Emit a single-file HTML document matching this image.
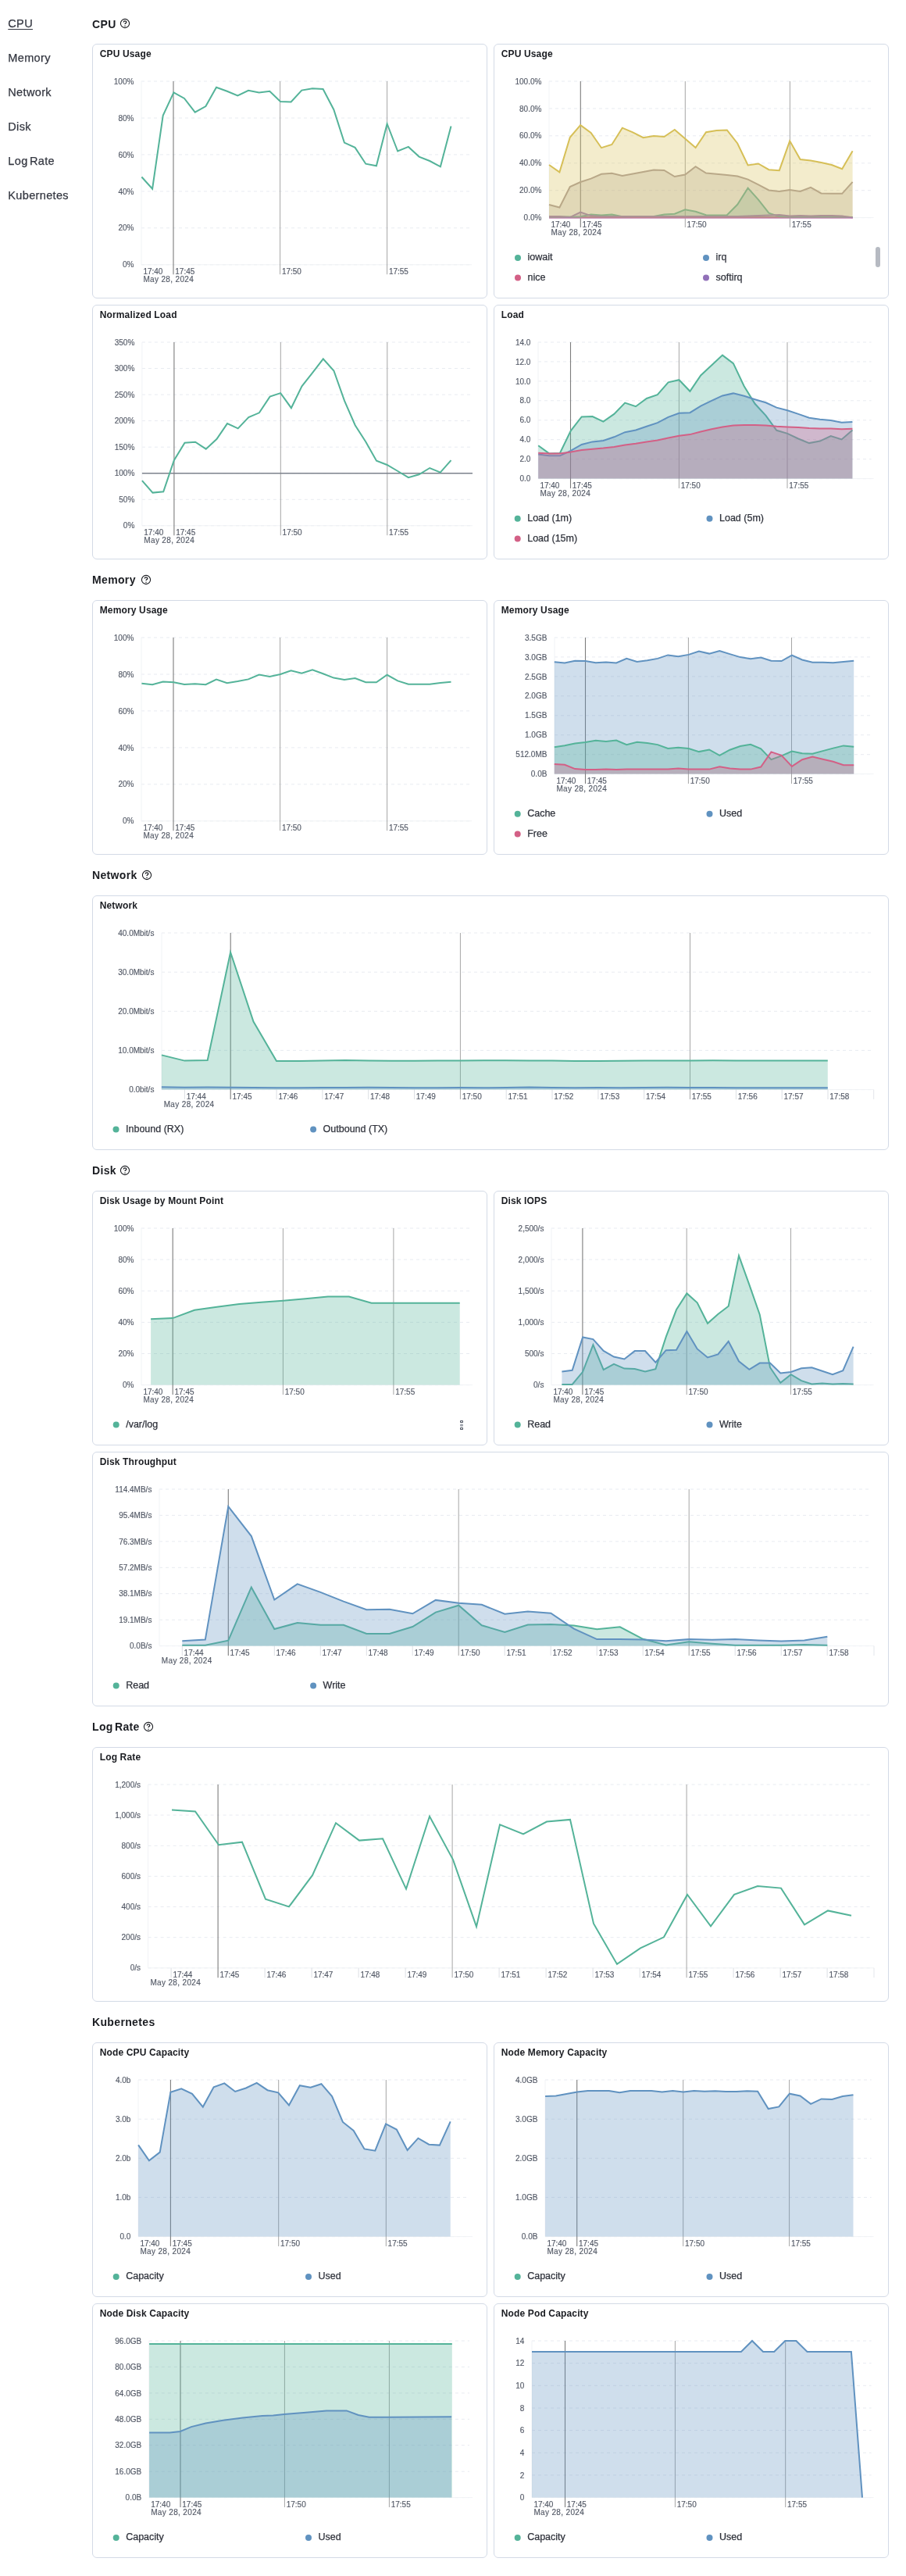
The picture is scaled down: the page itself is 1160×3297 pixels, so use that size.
<!DOCTYPE html>
<html><head><meta charset="utf-8"><title>Host metrics</title>
<style>
*{box-sizing:border-box}
html,body{margin:0;padding:0;background:#fff}
body{width:1160px;height:3297px;position:relative;overflow:hidden;font-family:"Liberation Sans", sans-serif;color:#343741}
nav a{position:absolute;left:10.3px;font-size:14.5px;line-height:14px;color:#343741;text-decoration:none;letter-spacing:0.35px;word-spacing:-2px;white-space:nowrap;-webkit-text-stroke:0.25px #343741}
nav a.active{text-decoration:underline;text-underline-offset:2px;text-decoration-thickness:1px}
h2{position:absolute;left:117.8px;margin:0;font-size:14px;line-height:14px;font-weight:bold;color:#1a1c21;letter-spacing:0.35px;word-spacing:-2px;white-space:nowrap}
svg.help{position:absolute}
.panel{position:absolute;border:1px solid #d3dae6;border-radius:6px;background:#fff;will-change:transform}
nav,h2,svg.help{will-change:transform}
.ptitle{position:absolute;left:8.7px;top:5.8px;margin:0;font-size:12px;line-height:12px;font-weight:bold;color:#1a1c21;white-space:nowrap;letter-spacing:0.15px}
svg.ch{position:absolute;left:-1px;top:-1px;overflow:visible}
svg text{font-family:"Liberation Sans", sans-serif}
.yl{font-size:10px;fill:#535966;stroke:#535966;stroke-width:0.15px}
.xl{font-size:10px;fill:#535966;stroke:#535966;stroke-width:0.15px}
.dl{letter-spacing:0.35px}
.lg{font-size:12.5px;fill:#2f323b;stroke:#2f323b;stroke-width:0.25px}
</style></head><body>

<nav>
<a href="#cpu" class="active" style="top:23.2px">CPU</a>
<a href="#memory" class="" style="top:67.2px">Memory</a>
<a href="#network" class="" style="top:111.2px">Network</a>
<a href="#disk" class="" style="top:155.2px">Disk</a>
<a href="#lograte" class="" style="top:199.2px">Log Rate</a>
<a href="#kubernetes" class="" style="top:243.2px">Kubernetes</a>
</nav>
<h2 style="top:23.5px">CPU</h2>
<svg class="help" style="left:153px;top:23.2px" width="14" height="14" viewBox="0 0 14 14"><circle cx="7" cy="7" r="5.6" fill="none" stroke="#1a1c21" stroke-width="1.1"/><path d="M5.2 5.5 C5.2 3.3 8.8 3.3 8.8 5.4 C8.8 6.6 7 6.8 7 7.9" fill="none" stroke="#1a1c21" stroke-width="1.25"/><circle cx="7" cy="10.2" r="0.75" fill="#1a1c21"/></svg>
<h2 style="top:735.3px">Memory</h2>
<svg class="help" style="left:179.8px;top:735px" width="14" height="14" viewBox="0 0 14 14"><circle cx="7" cy="7" r="5.6" fill="none" stroke="#1a1c21" stroke-width="1.1"/><path d="M5.2 5.5 C5.2 3.3 8.8 3.3 8.8 5.4 C8.8 6.6 7 6.8 7 7.9" fill="none" stroke="#1a1c21" stroke-width="1.25"/><circle cx="7" cy="10.2" r="0.75" fill="#1a1c21"/></svg>
<h2 style="top:1113.3px">Network</h2>
<svg class="help" style="left:180.8px;top:1113px" width="14" height="14" viewBox="0 0 14 14"><circle cx="7" cy="7" r="5.6" fill="none" stroke="#1a1c21" stroke-width="1.1"/><path d="M5.2 5.5 C5.2 3.3 8.8 3.3 8.8 5.4 C8.8 6.6 7 6.8 7 7.9" fill="none" stroke="#1a1c21" stroke-width="1.25"/><circle cx="7" cy="10.2" r="0.75" fill="#1a1c21"/></svg>
<h2 style="top:1491.3px">Disk</h2>
<svg class="help" style="left:152.8px;top:1491px" width="14" height="14" viewBox="0 0 14 14"><circle cx="7" cy="7" r="5.6" fill="none" stroke="#1a1c21" stroke-width="1.1"/><path d="M5.2 5.5 C5.2 3.3 8.8 3.3 8.8 5.4 C8.8 6.6 7 6.8 7 7.9" fill="none" stroke="#1a1c21" stroke-width="1.25"/><circle cx="7" cy="10.2" r="0.75" fill="#1a1c21"/></svg>
<h2 style="top:2203.3px">Log Rate</h2>
<svg class="help" style="left:183px;top:2203px" width="14" height="14" viewBox="0 0 14 14"><circle cx="7" cy="7" r="5.6" fill="none" stroke="#1a1c21" stroke-width="1.1"/><path d="M5.2 5.5 C5.2 3.3 8.8 3.3 8.8 5.4 C8.8 6.6 7 6.8 7 7.9" fill="none" stroke="#1a1c21" stroke-width="1.25"/><circle cx="7" cy="10.2" r="0.75" fill="#1a1c21"/></svg>
<h2 style="top:2581.3px">Kubernetes</h2>
<div class="panel" style="left:118px;top:56px;width:506px;height:326px">
<h3 class="ptitle">CPU Usage</h3>
<svg class="ch" width="506" height="326" viewBox="118 56 506 326">
<line x1="181" y1="104" x2="601" y2="104" stroke="#e8ebf1" stroke-width="1" stroke-dasharray="4 4"/>
<line x1="181" y1="151" x2="601" y2="151" stroke="#e8ebf1" stroke-width="1" stroke-dasharray="4 4"/>
<line x1="181" y1="197.9" x2="601" y2="197.9" stroke="#e8ebf1" stroke-width="1" stroke-dasharray="4 4"/>
<line x1="181" y1="244.9" x2="601" y2="244.9" stroke="#e8ebf1" stroke-width="1" stroke-dasharray="4 4"/>
<line x1="181" y1="291.8" x2="601" y2="291.8" stroke="#e8ebf1" stroke-width="1" stroke-dasharray="4 4"/>
<line x1="181" y1="338.8" x2="601" y2="338.8" stroke="#e8ebf1" stroke-width="1" stroke-dasharray="4 4"/>
<text x="171.4" y="107.6" text-anchor="end" class="yl">100%</text>
<text x="171.4" y="154.6" text-anchor="end" class="yl">80%</text>
<text x="171.4" y="201.5" text-anchor="end" class="yl">60%</text>
<text x="171.4" y="248.5" text-anchor="end" class="yl">40%</text>
<text x="171.4" y="295.4" text-anchor="end" class="yl">20%</text>
<text x="171.4" y="342.4" text-anchor="end" class="yl">0%</text>
<line x1="181" y1="104" x2="181" y2="338.8" stroke="#f1f3f6" stroke-width="1"/>
<line x1="181" y1="338.8" x2="604" y2="338.8" stroke="#f1f3f6" stroke-width="1"/>
<line x1="222" y1="104" x2="222" y2="351.2" stroke="#7d7d7d" stroke-width="1.1"/>
<text x="224.3" y="350.9" class="xl">17:45</text>
<line x1="358.6" y1="104" x2="358.6" y2="351.2" stroke="#a6a6a6" stroke-width="1"/>
<text x="360.9" y="350.9" class="xl">17:50</text>
<line x1="495.6" y1="104" x2="495.6" y2="351.2" stroke="#a6a6a6" stroke-width="1"/>
<text x="497.9" y="350.9" class="xl">17:55</text>
<text x="183.4" y="350.9" class="xl">17:40</text>
<text x="183.4" y="360.9" class="xl dl">May 28, 2024</text>
<path d="M181.4 226.5 L195.1 241.7 L208.7 147.8 L222.4 118.4 L236 126 L249.7 143.7 L263.4 136.1 L277 111.8 L290.7 116.8 L304.3 122.4 L318 115.8 L331.7 118.4 L345.3 116.8 L359 130 L372.6 130.5 L386.3 115.6 L400 113.3 L413.6 114 L427.3 140.2 L440.9 182.6 L454.6 188.9 L468.3 209.7 L481.9 212.3 L495.6 158.5 L509.2 193.5 L522.9 187.9 L536.6 200.6 L550.2 206 L563.9 213.3 L577.5 161.5" fill="none" stroke="#54B399" stroke-width="2" stroke-linejoin="miter"/>
</svg></div>
<div class="panel" style="left:632px;top:56px;width:506px;height:326px">
<h3 class="ptitle">CPU Usage</h3>
<svg class="ch" width="506" height="326" viewBox="632 56 506 326">
<line x1="703" y1="104" x2="1115.6" y2="104" stroke="#e8ebf1" stroke-width="1" stroke-dasharray="4 4"/>
<line x1="703" y1="138.9" x2="1115.6" y2="138.9" stroke="#e8ebf1" stroke-width="1" stroke-dasharray="4 4"/>
<line x1="703" y1="173.8" x2="1115.6" y2="173.8" stroke="#e8ebf1" stroke-width="1" stroke-dasharray="4 4"/>
<line x1="703" y1="208.8" x2="1115.6" y2="208.8" stroke="#e8ebf1" stroke-width="1" stroke-dasharray="4 4"/>
<line x1="703" y1="243.7" x2="1115.6" y2="243.7" stroke="#e8ebf1" stroke-width="1" stroke-dasharray="4 4"/>
<line x1="703" y1="278.6" x2="1115.6" y2="278.6" stroke="#e8ebf1" stroke-width="1" stroke-dasharray="4 4"/>
<text x="693.4" y="107.6" text-anchor="end" class="yl">100.0%</text>
<text x="693.4" y="142.5" text-anchor="end" class="yl">80.0%</text>
<text x="693.4" y="177.4" text-anchor="end" class="yl">60.0%</text>
<text x="693.4" y="212.4" text-anchor="end" class="yl">40.0%</text>
<text x="693.4" y="247.3" text-anchor="end" class="yl">20.0%</text>
<text x="693.4" y="282.2" text-anchor="end" class="yl">0.0%</text>
<line x1="703" y1="104" x2="703" y2="278.6" stroke="#f1f3f6" stroke-width="1"/>
<line x1="703" y1="278.6" x2="1118.6" y2="278.6" stroke="#f1f3f6" stroke-width="1"/>
<line x1="743.3" y1="104" x2="743.3" y2="291" stroke="#7d7d7d" stroke-width="1.1"/>
<text x="745.6" y="290.7" class="xl">17:45</text>
<line x1="877.3" y1="104" x2="877.3" y2="291" stroke="#a6a6a6" stroke-width="1"/>
<text x="879.6" y="290.7" class="xl">17:50</text>
<line x1="1011.4" y1="104" x2="1011.4" y2="291" stroke="#a6a6a6" stroke-width="1"/>
<text x="1013.7" y="290.7" class="xl">17:55</text>
<text x="705.4" y="290.7" class="xl">17:40</text>
<text x="705.4" y="300.7" class="xl dl">May 28, 2024</text>
<rect x="1121" y="316" width="6" height="26" rx="3" fill="#b6bac2"/>
<path d="M703 278.1 L716.4 278.1 L729.8 278.1 L743.2 278.1 L756.6 278.1 L770 278.1 L783.4 278.1 L796.8 278.1 L810.2 278.1 L823.6 278.1 L837 278.1 L850.4 278.1 L863.8 278.1 L877.2 278.1 L890.6 278.1 L904 278.1 L917.4 278.1 L930.8 278.1 L944.2 278.1 L957.6 278.1 L971 278.1 L984.4 278.1 L997.8 278.1 L1011.2 278.1 L1024.6 278.1 L1038 278.1 L1051.4 278.1 L1064.8 278.1 L1078.2 278.1 L1091.6 278.1 L1091.6 278.6 L703 278.6 Z" fill="#D36086" fill-opacity="0.3" stroke="none"/>
<path d="M703 278.1 L716.4 278.1 L729.8 278.1 L743.2 278.1 L756.6 278.1 L770 278.1 L783.4 278.1 L796.8 278.1 L810.2 278.1 L823.6 278.1 L837 278.1 L850.4 278.1 L863.8 278.1 L877.2 278.1 L890.6 278.1 L904 278.1 L917.4 278.1 L930.8 278.1 L944.2 278.1 L957.6 278.1 L971 278.1 L984.4 278.1 L997.8 278.1 L1011.2 278.1 L1024.6 278.1 L1038 278.1 L1051.4 278.1 L1064.8 278.1 L1078.2 278.1 L1091.6 278.1" fill="none" stroke="#D36086" stroke-width="2" stroke-linejoin="miter"/>
<path d="M703 277.6 L716.4 277.6 L729.8 277.6 L743.2 277.2 L756.6 274.4 L770 275.6 L783.4 274.4 L796.8 277.2 L810.2 277.1 L823.6 277.1 L837 277.1 L850.4 274.4 L863.8 273.7 L877.2 268.2 L890.6 270.8 L904 275.2 L917.4 275.6 L930.8 275.2 L944.2 261.8 L957.6 240.6 L971 255.6 L984.4 272.7 L997.8 277.1 L1011.2 277.4 L1024.6 277.6 L1038 277.6 L1051.4 277.6 L1064.8 277.6 L1078.2 277.6 L1091.6 278.1 L1091.6 278.6 L703 278.6 Z" fill="#54B399" fill-opacity="0.3" stroke="none"/>
<path d="M703 277.6 L716.4 277.6 L729.8 277.6 L743.2 277.2 L756.6 274.4 L770 275.6 L783.4 274.4 L796.8 277.2 L810.2 277.1 L823.6 277.1 L837 277.1 L850.4 274.4 L863.8 273.7 L877.2 268.2 L890.6 270.8 L904 275.2 L917.4 275.6 L930.8 275.2 L944.2 261.8 L957.6 240.6 L971 255.6 L984.4 272.7 L997.8 277.1 L1011.2 277.4 L1024.6 277.6 L1038 277.6 L1051.4 277.6 L1064.8 277.6 L1078.2 277.6 L1091.6 278.1" fill="none" stroke="#54B399" stroke-width="2" stroke-linejoin="miter"/>
<path d="M703 277.1 L716.4 277.1 L729.8 278.1 L743.2 271.5 L756.6 276.1 L770 277.1 L783.4 277.1 L796.8 277.1 L810.2 277.1 L823.6 277.1 L837 277.1 L850.4 277.1 L863.8 277.1 L877.2 277.1 L890.6 277.1 L904 277.1 L917.4 277.1 L930.8 277.1 L944.2 277.1 L957.6 276.6 L971 276.1 L984.4 275.6 L997.8 275.1 L1011.2 276.6 L1024.6 276.1 L1038 276.6 L1051.4 276.1 L1064.8 276.1 L1078.2 276.6 L1091.6 278.6 L1091.6 278.6 L703 278.6 Z" fill="#9170B8" fill-opacity="0.3" stroke="none"/>
<path d="M703 277.1 L716.4 277.1 L729.8 278.1 L743.2 271.5 L756.6 276.1 L770 277.1 L783.4 277.1 L796.8 277.1 L810.2 277.1 L823.6 277.1 L837 277.1 L850.4 277.1 L863.8 277.1 L877.2 277.1 L890.6 277.1 L904 277.1 L917.4 277.1 L930.8 277.1 L944.2 277.1 L957.6 276.6 L971 276.1 L984.4 275.6 L997.8 275.1 L1011.2 276.6 L1024.6 276.1 L1038 276.6 L1051.4 276.1 L1064.8 276.1 L1078.2 276.6 L1091.6 278.6" fill="none" stroke="#9170B8" stroke-width="2" stroke-linejoin="miter"/>
<path d="M703 211 L716.4 220.3 L729.8 175.8 L743.2 160.2 L756.6 170 L770 189.2 L783.4 185 L796.8 163.7 L810.2 169.3 L823.6 176.2 L837 173.9 L850.4 175 L863.8 166 L877.2 177.6 L890.6 189.1 L904 169.2 L917.4 167 L930.8 166.5 L944.2 183.5 L957.6 211.4 L971 209.5 L984.4 217.2 L997.8 218.2 L1011.2 180.3 L1024.6 204.1 L1038 205.6 L1051.4 208 L1064.8 211 L1078.2 216.3 L1091.6 193.2 L1091.6 278.6 L703 278.6 Z" fill="#D6BF57" fill-opacity="0.3" stroke="none"/>
<path d="M703 211 L716.4 220.3 L729.8 175.8 L743.2 160.2 L756.6 170 L770 189.2 L783.4 185 L796.8 163.7 L810.2 169.3 L823.6 176.2 L837 173.9 L850.4 175 L863.8 166 L877.2 177.6 L890.6 189.1 L904 169.2 L917.4 167 L930.8 166.5 L944.2 183.5 L957.6 211.4 L971 209.5 L984.4 217.2 L997.8 218.2 L1011.2 180.3 L1024.6 204.1 L1038 205.6 L1051.4 208 L1064.8 211 L1078.2 216.3 L1091.6 193.2" fill="none" stroke="#D6BF57" stroke-width="2" stroke-linejoin="miter"/>
<path d="M703 262 L716.4 265.5 L729.8 239 L743.2 233 L756.6 228.6 L770 222.8 L783.4 221.7 L796.8 224.9 L810.2 222.6 L823.6 220 L837 217.5 L850.4 218 L863.8 226 L877.2 223.5 L890.6 213.1 L904 221.6 L917.4 222.8 L930.8 224 L944.2 225.5 L957.6 229.6 L971 236.4 L984.4 243.5 L997.8 245 L1011.2 243 L1024.6 245 L1038 239.8 L1051.4 247.4 L1064.8 247.8 L1078.2 247.8 L1091.6 232.8 L1091.6 278.6 L703 278.6 Z" fill="#B9A888" fill-opacity="0.3" stroke="none"/>
<path d="M703 262 L716.4 265.5 L729.8 239 L743.2 233 L756.6 228.6 L770 222.8 L783.4 221.7 L796.8 224.9 L810.2 222.6 L823.6 220 L837 217.5 L850.4 218 L863.8 226 L877.2 223.5 L890.6 213.1 L904 221.6 L917.4 222.8 L930.8 224 L944.2 225.5 L957.6 229.6 L971 236.4 L984.4 243.5 L997.8 245 L1011.2 243 L1024.6 245 L1038 239.8 L1051.4 247.4 L1064.8 247.8 L1078.2 247.8 L1091.6 232.8" fill="none" stroke="#B9A888" stroke-width="2" stroke-linejoin="miter"/>
<line x1="703" y1="279.2" x2="1092" y2="279.2" stroke="#c687b0" stroke-width="1.1"/>
<circle cx="663" cy="330" r="4" fill="#54B399"/>
<text x="675.5" y="333.2" class="lg">iowait</text>
<circle cx="904" cy="330" r="4" fill="#6092C0"/>
<text x="916.5" y="333.2" class="lg">irq</text>
<circle cx="663" cy="355.6" r="4" fill="#D36086"/>
<text x="675.5" y="358.8" class="lg">nice</text>
<circle cx="904" cy="355.6" r="4" fill="#9170B8"/>
<text x="916.5" y="358.8" class="lg">softirq</text>
</svg></div>
<div class="panel" style="left:118px;top:390px;width:506px;height:326px">
<h3 class="ptitle">Normalized Load</h3>
<svg class="ch" width="506" height="326" viewBox="118 390 506 326">
<line x1="181.9" y1="438" x2="602" y2="438" stroke="#e8ebf1" stroke-width="1" stroke-dasharray="4 4"/>
<line x1="181.9" y1="471.5" x2="602" y2="471.5" stroke="#e8ebf1" stroke-width="1" stroke-dasharray="4 4"/>
<line x1="181.9" y1="505.1" x2="602" y2="505.1" stroke="#e8ebf1" stroke-width="1" stroke-dasharray="4 4"/>
<line x1="181.9" y1="538.6" x2="602" y2="538.6" stroke="#e8ebf1" stroke-width="1" stroke-dasharray="4 4"/>
<line x1="181.9" y1="572.2" x2="602" y2="572.2" stroke="#e8ebf1" stroke-width="1" stroke-dasharray="4 4"/>
<line x1="181.9" y1="605.7" x2="602" y2="605.7" stroke="#e8ebf1" stroke-width="1" stroke-dasharray="4 4"/>
<line x1="181.9" y1="639.3" x2="602" y2="639.3" stroke="#e8ebf1" stroke-width="1" stroke-dasharray="4 4"/>
<line x1="181.9" y1="672.8" x2="602" y2="672.8" stroke="#e8ebf1" stroke-width="1" stroke-dasharray="4 4"/>
<text x="172.3" y="441.6" text-anchor="end" class="yl">350%</text>
<text x="172.3" y="475.1" text-anchor="end" class="yl">300%</text>
<text x="172.3" y="508.7" text-anchor="end" class="yl">250%</text>
<text x="172.3" y="542.2" text-anchor="end" class="yl">200%</text>
<text x="172.3" y="575.8" text-anchor="end" class="yl">150%</text>
<text x="172.3" y="609.3" text-anchor="end" class="yl">100%</text>
<text x="172.3" y="642.9" text-anchor="end" class="yl">50%</text>
<text x="172.3" y="676.4" text-anchor="end" class="yl">0%</text>
<line x1="181.9" y1="438" x2="181.9" y2="672.8" stroke="#f1f3f6" stroke-width="1"/>
<line x1="181.9" y1="672.8" x2="605" y2="672.8" stroke="#f1f3f6" stroke-width="1"/>
<line x1="222.9" y1="438" x2="222.9" y2="685.2" stroke="#7d7d7d" stroke-width="1.1"/>
<text x="225.2" y="684.9" class="xl">17:45</text>
<line x1="359.3" y1="438" x2="359.3" y2="685.2" stroke="#a6a6a6" stroke-width="1"/>
<text x="361.6" y="684.9" class="xl">17:50</text>
<line x1="495.8" y1="438" x2="495.8" y2="685.2" stroke="#a6a6a6" stroke-width="1"/>
<text x="498.1" y="684.9" class="xl">17:55</text>
<text x="184.3" y="684.9" class="xl">17:40</text>
<text x="184.3" y="694.9" class="xl dl">May 28, 2024</text>
<line x1="181.9" y1="605.8" x2="605" y2="605.8" stroke="#7d828c" stroke-width="1.5"/>
<path d="M181.9 615.2 L195.5 630.6 L209.2 629.2 L222.8 589.2 L236.5 566.7 L250.1 565.7 L263.7 574.7 L277.4 562 L291 542.1 L304.7 548.4 L318.3 534.1 L331.9 528.3 L345.6 507.6 L359.2 503.1 L372.9 522.2 L386.5 494.4 L400.1 477.2 L413.8 459.4 L427.4 474.5 L441.1 513.2 L454.7 544.2 L468.3 565.4 L482 589.8 L495.6 595 L509.3 603 L522.9 611.2 L536.5 607.3 L550.2 599 L563.8 604.6 L577.5 589.2" fill="none" stroke="#54B399" stroke-width="2" stroke-linejoin="miter"/>
</svg></div>
<div class="panel" style="left:632px;top:390px;width:506px;height:326px">
<h3 class="ptitle">Load</h3>
<svg class="ch" width="506" height="326" viewBox="632 390 506 326">
<line x1="689" y1="438" x2="1115.6" y2="438" stroke="#e8ebf1" stroke-width="1" stroke-dasharray="4 4"/>
<line x1="689" y1="462.9" x2="1115.6" y2="462.9" stroke="#e8ebf1" stroke-width="1" stroke-dasharray="4 4"/>
<line x1="689" y1="487.9" x2="1115.6" y2="487.9" stroke="#e8ebf1" stroke-width="1" stroke-dasharray="4 4"/>
<line x1="689" y1="512.8" x2="1115.6" y2="512.8" stroke="#e8ebf1" stroke-width="1" stroke-dasharray="4 4"/>
<line x1="689" y1="537.8" x2="1115.6" y2="537.8" stroke="#e8ebf1" stroke-width="1" stroke-dasharray="4 4"/>
<line x1="689" y1="562.7" x2="1115.6" y2="562.7" stroke="#e8ebf1" stroke-width="1" stroke-dasharray="4 4"/>
<line x1="689" y1="587.7" x2="1115.6" y2="587.7" stroke="#e8ebf1" stroke-width="1" stroke-dasharray="4 4"/>
<line x1="689" y1="612.6" x2="1115.6" y2="612.6" stroke="#e8ebf1" stroke-width="1" stroke-dasharray="4 4"/>
<text x="679.4" y="441.6" text-anchor="end" class="yl">14.0</text>
<text x="679.4" y="466.5" text-anchor="end" class="yl">12.0</text>
<text x="679.4" y="491.5" text-anchor="end" class="yl">10.0</text>
<text x="679.4" y="516.4" text-anchor="end" class="yl">8.0</text>
<text x="679.4" y="541.4" text-anchor="end" class="yl">6.0</text>
<text x="679.4" y="566.3" text-anchor="end" class="yl">4.0</text>
<text x="679.4" y="591.3" text-anchor="end" class="yl">2.0</text>
<text x="679.4" y="616.2" text-anchor="end" class="yl">0.0</text>
<line x1="689" y1="438" x2="689" y2="612.6" stroke="#f1f3f6" stroke-width="1"/>
<line x1="689" y1="612.6" x2="1118.6" y2="612.6" stroke="#f1f3f6" stroke-width="1"/>
<line x1="730.5" y1="438" x2="730.5" y2="625" stroke="#7d7d7d" stroke-width="1.1"/>
<text x="732.8" y="624.7" class="xl">17:45</text>
<line x1="869.4" y1="438" x2="869.4" y2="625" stroke="#a6a6a6" stroke-width="1"/>
<text x="871.7" y="624.7" class="xl">17:50</text>
<line x1="1008" y1="438" x2="1008" y2="625" stroke="#a6a6a6" stroke-width="1"/>
<text x="1010.3" y="624.7" class="xl">17:55</text>
<text x="691.4" y="624.7" class="xl">17:40</text>
<text x="691.4" y="634.7" class="xl dl">May 28, 2024</text>
<path d="M689.2 570.2 L703.1 580.4 L716.9 579.9 L730.8 551.3 L744.7 533.5 L758.6 533.1 L772.4 539.6 L786.3 529.9 L800.2 515.6 L814 520.2 L827.9 510 L841.8 505.1 L855.6 489.4 L869.5 486.2 L883.4 500.8 L897.2 480.4 L911.1 467.5 L925 454.6 L938.9 465.1 L952.7 494.2 L966.6 516.8 L980.5 531.8 L994.3 550.8 L1008.2 554.9 L1022.1 561.5 L1036 567.1 L1049.8 564.6 L1063.7 558.1 L1077.6 562.4 L1091.4 550.5 L1091.4 612.6 L689.2 612.6 Z" fill="#54B399" fill-opacity="0.3" stroke="none"/>
<path d="M689.2 570.2 L703.1 580.4 L716.9 579.9 L730.8 551.3 L744.7 533.5 L758.6 533.1 L772.4 539.6 L786.3 529.9 L800.2 515.6 L814 520.2 L827.9 510 L841.8 505.1 L855.6 489.4 L869.5 486.2 L883.4 500.8 L897.2 480.4 L911.1 467.5 L925 454.6 L938.9 465.1 L952.7 494.2 L966.6 516.8 L980.5 531.8 L994.3 550.8 L1008.2 554.9 L1022.1 561.5 L1036 567.1 L1049.8 564.6 L1063.7 558.1 L1077.6 562.4 L1091.4 550.5" fill="none" stroke="#54B399" stroke-width="2" stroke-linejoin="miter"/>
<path d="M689.2 581.6 L703.1 583.3 L716.9 583.3 L730.8 576.8 L744.7 569 L758.6 565.4 L772.4 563.9 L786.3 559.3 L800.2 553.2 L814 550.5 L827.9 545.7 L841.8 541.1 L855.6 533.8 L869.5 528.7 L883.4 528.2 L897.2 519.7 L911.1 512.9 L925 506.4 L938.9 503.4 L952.7 506.8 L966.6 511.2 L980.5 515.3 L994.3 521.6 L1008.2 525.3 L1022.1 529.9 L1036 534.8 L1049.8 536.7 L1063.7 537.9 L1077.6 540.8 L1091.4 539.9 L1091.4 612.6 L689.2 612.6 Z" fill="#6092C0" fill-opacity="0.3" stroke="none"/>
<path d="M689.2 581.6 L703.1 583.3 L716.9 583.3 L730.8 576.8 L744.7 569 L758.6 565.4 L772.4 563.9 L786.3 559.3 L800.2 553.2 L814 550.5 L827.9 545.7 L841.8 541.1 L855.6 533.8 L869.5 528.7 L883.4 528.2 L897.2 519.7 L911.1 512.9 L925 506.4 L938.9 503.4 L952.7 506.8 L966.6 511.2 L980.5 515.3 L994.3 521.6 L1008.2 525.3 L1022.1 529.9 L1036 534.8 L1049.8 536.7 L1063.7 537.9 L1077.6 540.8 L1091.4 539.9" fill="none" stroke="#6092C0" stroke-width="2" stroke-linejoin="miter"/>
<path d="M689.2 579.7 L703.1 580.4 L716.9 580.4 L730.8 578.5 L744.7 576 L758.6 574.8 L772.4 573.6 L786.3 571.9 L800.2 569.5 L814 567.8 L827.9 565.4 L841.8 563.4 L855.6 560.5 L869.5 557.8 L883.4 556.1 L897.2 552.5 L911.1 549.3 L925 546.4 L938.9 544.5 L952.7 544 L966.6 544 L980.5 544.5 L994.3 545.7 L1008.2 546.4 L1022.1 547.1 L1036 548.1 L1049.8 548.4 L1063.7 548.4 L1077.6 549.3 L1091.4 548.8 L1091.4 612.6 L689.2 612.6 Z" fill="#D36086" fill-opacity="0.3" stroke="none"/>
<path d="M689.2 579.7 L703.1 580.4 L716.9 580.4 L730.8 578.5 L744.7 576 L758.6 574.8 L772.4 573.6 L786.3 571.9 L800.2 569.5 L814 567.8 L827.9 565.4 L841.8 563.4 L855.6 560.5 L869.5 557.8 L883.4 556.1 L897.2 552.5 L911.1 549.3 L925 546.4 L938.9 544.5 L952.7 544 L966.6 544 L980.5 544.5 L994.3 545.7 L1008.2 546.4 L1022.1 547.1 L1036 548.1 L1049.8 548.4 L1063.7 548.4 L1077.6 549.3 L1091.4 548.8" fill="none" stroke="#D36086" stroke-width="2" stroke-linejoin="miter"/>
<circle cx="662.7" cy="663.7" r="4" fill="#54B399"/>
<text x="675.2" y="666.9" class="lg">Load (1m)</text>
<circle cx="908.5" cy="663.7" r="4" fill="#6092C0"/>
<text x="921" y="666.9" class="lg">Load (5m)</text>
<circle cx="662.7" cy="689.4" r="4" fill="#D36086"/>
<text x="675.2" y="692.6" class="lg">Load (15m)</text>
</svg></div>
<div class="panel" style="left:118px;top:768px;width:506px;height:326px">
<h3 class="ptitle">Memory Usage</h3>
<svg class="ch" width="506" height="326" viewBox="118 768 506 326">
<line x1="181" y1="816" x2="601" y2="816" stroke="#e8ebf1" stroke-width="1" stroke-dasharray="4 4"/>
<line x1="181" y1="863" x2="601" y2="863" stroke="#e8ebf1" stroke-width="1" stroke-dasharray="4 4"/>
<line x1="181" y1="909.9" x2="601" y2="909.9" stroke="#e8ebf1" stroke-width="1" stroke-dasharray="4 4"/>
<line x1="181" y1="956.9" x2="601" y2="956.9" stroke="#e8ebf1" stroke-width="1" stroke-dasharray="4 4"/>
<line x1="181" y1="1003.8" x2="601" y2="1003.8" stroke="#e8ebf1" stroke-width="1" stroke-dasharray="4 4"/>
<line x1="181" y1="1050.8" x2="601" y2="1050.8" stroke="#e8ebf1" stroke-width="1" stroke-dasharray="4 4"/>
<text x="171.4" y="819.6" text-anchor="end" class="yl">100%</text>
<text x="171.4" y="866.6" text-anchor="end" class="yl">80%</text>
<text x="171.4" y="913.5" text-anchor="end" class="yl">60%</text>
<text x="171.4" y="960.5" text-anchor="end" class="yl">40%</text>
<text x="171.4" y="1007.4" text-anchor="end" class="yl">20%</text>
<text x="171.4" y="1054.4" text-anchor="end" class="yl">0%</text>
<line x1="181" y1="816" x2="181" y2="1050.8" stroke="#f1f3f6" stroke-width="1"/>
<line x1="181" y1="1050.8" x2="604" y2="1050.8" stroke="#f1f3f6" stroke-width="1"/>
<line x1="222" y1="816" x2="222" y2="1063.2" stroke="#7d7d7d" stroke-width="1.1"/>
<text x="224.3" y="1062.9" class="xl">17:45</text>
<line x1="358.6" y1="816" x2="358.6" y2="1063.2" stroke="#a6a6a6" stroke-width="1"/>
<text x="360.9" y="1062.9" class="xl">17:50</text>
<line x1="495.6" y1="816" x2="495.6" y2="1063.2" stroke="#a6a6a6" stroke-width="1"/>
<text x="497.9" y="1062.9" class="xl">17:55</text>
<text x="183.4" y="1062.9" class="xl">17:40</text>
<text x="183.4" y="1072.9" class="xl dl">May 28, 2024</text>
<path d="M181.4 874.7 L195.1 876.2 L208.7 872.6 L222.4 873.2 L236 876 L249.7 875.2 L263.4 876.2 L277 869.6 L290.7 874.2 L304.3 872.1 L318 869.4 L331.7 863.5 L345.3 866 L359 863 L372.6 858.4 L386.3 861.7 L400 857.2 L413.6 862.2 L427.3 867.6 L440.9 869.9 L454.6 868.1 L468.3 873.2 L481.9 873.2 L495.6 863.8 L509.2 871.4 L522.9 875.7 L536.6 875.7 L550.2 875.7 L563.9 873.9 L577.5 872.7" fill="none" stroke="#54B399" stroke-width="2" stroke-linejoin="miter"/>
</svg></div>
<div class="panel" style="left:632px;top:768px;width:506px;height:326px">
<h3 class="ptitle">Memory Usage</h3>
<svg class="ch" width="506" height="326" viewBox="632 768 506 326">
<line x1="710" y1="816" x2="1115.6" y2="816" stroke="#e8ebf1" stroke-width="1" stroke-dasharray="4 4"/>
<line x1="710" y1="840.9" x2="1115.6" y2="840.9" stroke="#e8ebf1" stroke-width="1" stroke-dasharray="4 4"/>
<line x1="710" y1="865.9" x2="1115.6" y2="865.9" stroke="#e8ebf1" stroke-width="1" stroke-dasharray="4 4"/>
<line x1="710" y1="890.8" x2="1115.6" y2="890.8" stroke="#e8ebf1" stroke-width="1" stroke-dasharray="4 4"/>
<line x1="710" y1="915.8" x2="1115.6" y2="915.8" stroke="#e8ebf1" stroke-width="1" stroke-dasharray="4 4"/>
<line x1="710" y1="940.7" x2="1115.6" y2="940.7" stroke="#e8ebf1" stroke-width="1" stroke-dasharray="4 4"/>
<line x1="710" y1="965.7" x2="1115.6" y2="965.7" stroke="#e8ebf1" stroke-width="1" stroke-dasharray="4 4"/>
<line x1="710" y1="990.6" x2="1115.6" y2="990.6" stroke="#e8ebf1" stroke-width="1" stroke-dasharray="4 4"/>
<text x="700.4" y="819.6" text-anchor="end" class="yl">3.5GB</text>
<text x="700.4" y="844.5" text-anchor="end" class="yl">3.0GB</text>
<text x="700.4" y="869.5" text-anchor="end" class="yl">2.5GB</text>
<text x="700.4" y="894.4" text-anchor="end" class="yl">2.0GB</text>
<text x="700.4" y="919.4" text-anchor="end" class="yl">1.5GB</text>
<text x="700.4" y="944.3" text-anchor="end" class="yl">1.0GB</text>
<text x="700.4" y="969.3" text-anchor="end" class="yl">512.0MB</text>
<text x="700.4" y="994.2" text-anchor="end" class="yl">0.0B</text>
<line x1="710" y1="816" x2="710" y2="990.6" stroke="#f1f3f6" stroke-width="1"/>
<line x1="710" y1="990.6" x2="1118.6" y2="990.6" stroke="#f1f3f6" stroke-width="1"/>
<line x1="749.5" y1="816" x2="749.5" y2="1003" stroke="#7d7d7d" stroke-width="1.1"/>
<text x="751.8" y="1002.7" class="xl">17:45</text>
<line x1="881.4" y1="816" x2="881.4" y2="1003" stroke="#a6a6a6" stroke-width="1"/>
<text x="883.7" y="1002.7" class="xl">17:50</text>
<line x1="1013.5" y1="816" x2="1013.5" y2="1003" stroke="#a6a6a6" stroke-width="1"/>
<text x="1015.8" y="1002.7" class="xl">17:55</text>
<text x="712.4" y="1002.7" class="xl">17:40</text>
<text x="712.4" y="1012.7" class="xl dl">May 28, 2024</text>
<path d="M709.8 847.2 L723 848.5 L736.2 845.8 L749.5 846.1 L762.7 848.2 L775.9 847.4 L789.1 848.5 L802.3 842.9 L815.6 846.9 L828.8 845.3 L842 842.9 L855.2 838.4 L868.4 840.3 L881.7 837.9 L894.9 833.6 L908.1 836.6 L921.3 833.1 L934.5 837.1 L947.8 841.1 L961 843.2 L974.2 841.6 L987.4 845.8 L1000.6 846.1 L1013.9 838.7 L1027.1 844.5 L1040.3 847.7 L1053.5 847.7 L1066.7 848.2 L1080 846.9 L1093.2 845.8 L1093.2 990.6 L709.8 990.6 Z" fill="#6092C0" fill-opacity="0.3" stroke="none"/>
<path d="M709.8 847.2 L723 848.5 L736.2 845.8 L749.5 846.1 L762.7 848.2 L775.9 847.4 L789.1 848.5 L802.3 842.9 L815.6 846.9 L828.8 845.3 L842 842.9 L855.2 838.4 L868.4 840.3 L881.7 837.9 L894.9 833.6 L908.1 836.6 L921.3 833.1 L934.5 837.1 L947.8 841.1 L961 843.2 L974.2 841.6 L987.4 845.8 L1000.6 846.1 L1013.9 838.7 L1027.1 844.5 L1040.3 847.7 L1053.5 847.7 L1066.7 848.2 L1080 846.9 L1093.2 845.8" fill="none" stroke="#6092C0" stroke-width="2" stroke-linejoin="miter"/>
<path d="M709.8 956.3 L723 954.2 L736.2 951.5 L749.5 949.9 L762.7 947.8 L775.9 948.9 L789.1 947.5 L802.3 953.1 L815.6 949.7 L828.8 951 L842 953.1 L855.2 957.9 L868.4 956.8 L881.7 958.1 L894.9 962.1 L908.1 959.5 L921.3 966.9 L934.5 959.7 L947.8 955 L961 952.8 L974.2 958.4 L987.4 972.2 L1000.6 967.4 L1013.9 961.6 L1027.1 964.2 L1040.3 964.8 L1053.5 961.1 L1066.7 957.6 L1080 954.4 L1093.2 955.8 L1093.2 990.6 L709.8 990.6 Z" fill="#54B399" fill-opacity="0.3" stroke="none"/>
<path d="M709.8 956.3 L723 954.2 L736.2 951.5 L749.5 949.9 L762.7 947.8 L775.9 948.9 L789.1 947.5 L802.3 953.1 L815.6 949.7 L828.8 951 L842 953.1 L855.2 957.9 L868.4 956.8 L881.7 958.1 L894.9 962.1 L908.1 959.5 L921.3 966.9 L934.5 959.7 L947.8 955 L961 952.8 L974.2 958.4 L987.4 972.2 L1000.6 967.4 L1013.9 961.6 L1027.1 964.2 L1040.3 964.8 L1053.5 961.1 L1066.7 957.6 L1080 954.4 L1093.2 955.8" fill="none" stroke="#54B399" stroke-width="2" stroke-linejoin="miter"/>
<path d="M709.8 978 L723 978.8 L736.2 984.1 L749.5 984.9 L762.7 984.9 L775.9 984.6 L789.1 984.9 L802.3 984.6 L815.6 984.6 L828.8 984.6 L842 984.6 L855.2 984.6 L868.4 983.6 L881.7 984.6 L894.9 984.6 L908.1 984.6 L921.3 981.2 L934.5 983.6 L947.8 984.6 L961 984.6 L974.2 981.5 L987.4 962.4 L1000.6 966.9 L1013.9 980.9 L1027.1 972.2 L1040.3 968.5 L1053.5 971.7 L1066.7 974.8 L1080 979.3 L1093.2 979.3 L1093.2 990.6 L709.8 990.6 Z" fill="#D36086" fill-opacity="0.3" stroke="none"/>
<path d="M709.8 978 L723 978.8 L736.2 984.1 L749.5 984.9 L762.7 984.9 L775.9 984.6 L789.1 984.9 L802.3 984.6 L815.6 984.6 L828.8 984.6 L842 984.6 L855.2 984.6 L868.4 983.6 L881.7 984.6 L894.9 984.6 L908.1 984.6 L921.3 981.2 L934.5 983.6 L947.8 984.6 L961 984.6 L974.2 981.5 L987.4 962.4 L1000.6 966.9 L1013.9 980.9 L1027.1 972.2 L1040.3 968.5 L1053.5 971.7 L1066.7 974.8 L1080 979.3 L1093.2 979.3" fill="none" stroke="#D36086" stroke-width="2" stroke-linejoin="miter"/>
<circle cx="662.7" cy="1041.7" r="4" fill="#54B399"/>
<text x="675.2" y="1044.9" class="lg">Cache</text>
<circle cx="908.5" cy="1041.7" r="4" fill="#6092C0"/>
<text x="921" y="1044.9" class="lg">Used</text>
<circle cx="662.7" cy="1067.4" r="4" fill="#D36086"/>
<text x="675.2" y="1070.6" class="lg">Free</text>
</svg></div>
<div class="panel" style="left:118px;top:1146px;width:1020px;height:326px">
<h3 class="ptitle">Network</h3>
<svg class="ch" width="1020" height="326" viewBox="118 1146 1020 326">
<line x1="207" y1="1194" x2="1115.6" y2="1194" stroke="#e8ebf1" stroke-width="1" stroke-dasharray="4 4"/>
<line x1="207" y1="1244.2" x2="1115.6" y2="1244.2" stroke="#e8ebf1" stroke-width="1" stroke-dasharray="4 4"/>
<line x1="207" y1="1294.3" x2="1115.6" y2="1294.3" stroke="#e8ebf1" stroke-width="1" stroke-dasharray="4 4"/>
<line x1="207" y1="1344.4" x2="1115.6" y2="1344.4" stroke="#e8ebf1" stroke-width="1" stroke-dasharray="4 4"/>
<line x1="207" y1="1394.6" x2="1115.6" y2="1394.6" stroke="#e8ebf1" stroke-width="1" stroke-dasharray="4 4"/>
<text x="197.4" y="1197.6" text-anchor="end" class="yl">40.0Mbit/s</text>
<text x="197.4" y="1247.8" text-anchor="end" class="yl">30.0Mbit/s</text>
<text x="197.4" y="1297.9" text-anchor="end" class="yl">20.0Mbit/s</text>
<text x="197.4" y="1348" text-anchor="end" class="yl">10.0Mbit/s</text>
<text x="197.4" y="1398.2" text-anchor="end" class="yl">0.0bit/s</text>
<line x1="207" y1="1194" x2="207" y2="1394.6" stroke="#f1f3f6" stroke-width="1"/>
<line x1="207" y1="1394.6" x2="1118.7" y2="1394.6" stroke="#f1f3f6" stroke-width="1"/>
<line x1="236.4" y1="1394.6" x2="236.4" y2="1407" stroke="#dcdfe4" stroke-width="1"/>
<text x="238.7" y="1406.7" class="xl">17:44</text>
<line x1="295.2" y1="1194" x2="295.2" y2="1407" stroke="#7d7d7d" stroke-width="1.1"/>
<text x="297.5" y="1406.7" class="xl">17:45</text>
<line x1="354.1" y1="1394.6" x2="354.1" y2="1407" stroke="#dcdfe4" stroke-width="1"/>
<text x="356.4" y="1406.7" class="xl">17:46</text>
<line x1="412.9" y1="1394.6" x2="412.9" y2="1407" stroke="#dcdfe4" stroke-width="1"/>
<text x="415.2" y="1406.7" class="xl">17:47</text>
<line x1="471.7" y1="1394.6" x2="471.7" y2="1407" stroke="#dcdfe4" stroke-width="1"/>
<text x="474" y="1406.7" class="xl">17:48</text>
<line x1="530.5" y1="1394.6" x2="530.5" y2="1407" stroke="#dcdfe4" stroke-width="1"/>
<text x="532.8" y="1406.7" class="xl">17:49</text>
<line x1="589.4" y1="1194" x2="589.4" y2="1407" stroke="#a6a6a6" stroke-width="1"/>
<text x="591.7" y="1406.7" class="xl">17:50</text>
<line x1="648.2" y1="1394.6" x2="648.2" y2="1407" stroke="#dcdfe4" stroke-width="1"/>
<text x="650.5" y="1406.7" class="xl">17:51</text>
<line x1="707" y1="1394.6" x2="707" y2="1407" stroke="#dcdfe4" stroke-width="1"/>
<text x="709.3" y="1406.7" class="xl">17:52</text>
<line x1="765.9" y1="1394.6" x2="765.9" y2="1407" stroke="#dcdfe4" stroke-width="1"/>
<text x="768.2" y="1406.7" class="xl">17:53</text>
<line x1="824.7" y1="1394.6" x2="824.7" y2="1407" stroke="#dcdfe4" stroke-width="1"/>
<text x="827" y="1406.7" class="xl">17:54</text>
<line x1="883.5" y1="1194" x2="883.5" y2="1407" stroke="#a6a6a6" stroke-width="1"/>
<text x="885.8" y="1406.7" class="xl">17:55</text>
<line x1="942.4" y1="1394.6" x2="942.4" y2="1407" stroke="#dcdfe4" stroke-width="1"/>
<text x="944.7" y="1406.7" class="xl">17:56</text>
<line x1="1001.2" y1="1394.6" x2="1001.2" y2="1407" stroke="#dcdfe4" stroke-width="1"/>
<text x="1003.5" y="1406.7" class="xl">17:57</text>
<line x1="1060" y1="1394.6" x2="1060" y2="1407" stroke="#dcdfe4" stroke-width="1"/>
<text x="1062.3" y="1406.7" class="xl">17:58</text>
<line x1="1118.7" y1="1394.6" x2="1118.7" y2="1407" stroke="#e3e6eb" stroke-width="1"/>
<text x="209.7" y="1416.7" class="xl dl">May 28, 2024</text>
<path d="M206.9 1350.4 L236.3 1357.6 L265.7 1357 L295.1 1218.7 L324.5 1307.5 L354 1357.9 L383.4 1357.9 L412.8 1357.5 L442.2 1357 L471.6 1357.5 L501 1357.8 L530.4 1357.8 L559.8 1357.6 L589.2 1357.5 L618.6 1357.3 L648 1357.3 L677.5 1357.6 L706.9 1357.6 L736.3 1358 L765.7 1358 L795.1 1357.8 L824.5 1357.6 L853.9 1357.6 L883.3 1357.4 L912.7 1357.2 L942.1 1357.4 L971.6 1357.4 L1001 1357.4 L1030.4 1357.4 L1059.8 1357.4 L1059.8 1394.6 L206.9 1394.6 Z" fill="#54B399" fill-opacity="0.3" stroke="none"/>
<path d="M206.9 1350.4 L236.3 1357.6 L265.7 1357 L295.1 1218.7 L324.5 1307.5 L354 1357.9 L383.4 1357.9 L412.8 1357.5 L442.2 1357 L471.6 1357.5 L501 1357.8 L530.4 1357.8 L559.8 1357.6 L589.2 1357.5 L618.6 1357.3 L648 1357.3 L677.5 1357.6 L706.9 1357.6 L736.3 1358 L765.7 1358 L795.1 1357.8 L824.5 1357.6 L853.9 1357.6 L883.3 1357.4 L912.7 1357.2 L942.1 1357.4 L971.6 1357.4 L1001 1357.4 L1030.4 1357.4 L1059.8 1357.4" fill="none" stroke="#54B399" stroke-width="2" stroke-linejoin="miter"/>
<path d="M206.9 1391.2 L236.3 1391.8 L265.7 1391.5 L295.1 1391.8 L324.5 1392 L354 1392.2 L383.4 1392.3 L412.8 1392 L442.2 1392 L471.6 1391.8 L501 1392 L530.4 1392.2 L559.8 1392.2 L589.2 1392.1 L618.6 1392.2 L648 1392 L677.5 1391.6 L706.9 1392 L736.3 1392.2 L765.7 1392.1 L795.1 1392.2 L824.5 1392 L853.9 1391.8 L883.3 1392 L912.7 1392 L942.1 1392.2 L971.6 1392.2 L1001 1392.2 L1030.4 1392.2 L1059.8 1392.2 L1059.8 1394.6 L206.9 1394.6 Z" fill="#6092C0" fill-opacity="0.3" stroke="none"/>
<path d="M206.9 1391.2 L236.3 1391.8 L265.7 1391.5 L295.1 1391.8 L324.5 1392 L354 1392.2 L383.4 1392.3 L412.8 1392 L442.2 1392 L471.6 1391.8 L501 1392 L530.4 1392.2 L559.8 1392.2 L589.2 1392.1 L618.6 1392.2 L648 1392 L677.5 1391.6 L706.9 1392 L736.3 1392.2 L765.7 1392.1 L795.1 1392.2 L824.5 1392 L853.9 1391.8 L883.3 1392 L912.7 1392 L942.1 1392.2 L971.6 1392.2 L1001 1392.2 L1030.4 1392.2 L1059.8 1392.2" fill="none" stroke="#6092C0" stroke-width="2" stroke-linejoin="miter"/>
<circle cx="148.5" cy="1445.6" r="4" fill="#54B399"/>
<text x="161" y="1448.8" class="lg">Inbound (RX)</text>
<circle cx="401.1" cy="1445.6" r="4" fill="#6092C0"/>
<text x="413.6" y="1448.8" class="lg">Outbound (TX)</text>
</svg></div>
<div class="panel" style="left:118px;top:1524px;width:506px;height:326px">
<h3 class="ptitle">Disk Usage by Mount Point</h3>
<svg class="ch" width="506" height="326" viewBox="118 1524 506 326">
<line x1="181" y1="1572" x2="601" y2="1572" stroke="#e8ebf1" stroke-width="1" stroke-dasharray="4 4"/>
<line x1="181" y1="1612.1" x2="601" y2="1612.1" stroke="#e8ebf1" stroke-width="1" stroke-dasharray="4 4"/>
<line x1="181" y1="1652.2" x2="601" y2="1652.2" stroke="#e8ebf1" stroke-width="1" stroke-dasharray="4 4"/>
<line x1="181" y1="1692.4" x2="601" y2="1692.4" stroke="#e8ebf1" stroke-width="1" stroke-dasharray="4 4"/>
<line x1="181" y1="1732.5" x2="601" y2="1732.5" stroke="#e8ebf1" stroke-width="1" stroke-dasharray="4 4"/>
<line x1="181" y1="1772.6" x2="601" y2="1772.6" stroke="#e8ebf1" stroke-width="1" stroke-dasharray="4 4"/>
<text x="171.4" y="1575.6" text-anchor="end" class="yl">100%</text>
<text x="171.4" y="1615.7" text-anchor="end" class="yl">80%</text>
<text x="171.4" y="1655.8" text-anchor="end" class="yl">60%</text>
<text x="171.4" y="1696" text-anchor="end" class="yl">40%</text>
<text x="171.4" y="1736.1" text-anchor="end" class="yl">20%</text>
<text x="171.4" y="1776.2" text-anchor="end" class="yl">0%</text>
<line x1="181" y1="1572" x2="181" y2="1772.6" stroke="#f1f3f6" stroke-width="1"/>
<line x1="181" y1="1772.6" x2="605" y2="1772.6" stroke="#f1f3f6" stroke-width="1"/>
<line x1="221.2" y1="1572" x2="221.2" y2="1785" stroke="#7d7d7d" stroke-width="1.1"/>
<text x="223.5" y="1784.7" class="xl">17:45</text>
<line x1="362.4" y1="1572" x2="362.4" y2="1785" stroke="#a6a6a6" stroke-width="1"/>
<text x="364.7" y="1784.7" class="xl">17:50</text>
<line x1="503.9" y1="1572" x2="503.9" y2="1785" stroke="#a6a6a6" stroke-width="1"/>
<text x="506.2" y="1784.7" class="xl">17:55</text>
<text x="183.4" y="1784.7" class="xl">17:40</text>
<text x="183.4" y="1794.7" class="xl dl">May 28, 2024</text>
<g><rect x="589" y="1818" width="4" height="3" rx="0.8" fill="#535966"/><rect x="590" y="1819.1" width="2" height="0.9" fill="#fff"/><rect x="589" y="1822.5" width="4" height="3.2" rx="1.2" fill="#a3a7b0"/><rect x="589" y="1827" width="4" height="3" rx="0.8" fill="#535966"/><rect x="590" y="1828.1" width="2" height="0.9" fill="#fff"/></g>
<path d="M193.1 1688.3 L221.2 1687.1 L249 1676.8 L277.6 1672.8 L306.4 1669 L334.4 1666.8 L362.4 1664.7 L391 1662.2 L419.9 1659.6 L446.8 1659.6 L475.6 1667.7 L588.7 1667.7 L588.7 1772.6 L193.1 1772.6 Z" fill="#54B399" fill-opacity="0.3" stroke="none"/>
<path d="M193.1 1688.3 L221.2 1687.1 L249 1676.8 L277.6 1672.8 L306.4 1669 L334.4 1666.8 L362.4 1664.7 L391 1662.2 L419.9 1659.6 L446.8 1659.6 L475.6 1667.7 L588.7 1667.7" fill="none" stroke="#54B399" stroke-width="2" stroke-linejoin="miter"/>
<circle cx="148.7" cy="1823.4" r="4" fill="#54B399"/>
<text x="161.2" y="1826.6" class="lg">/var/log</text>
</svg></div>
<div class="panel" style="left:632px;top:1524px;width:506px;height:326px">
<h3 class="ptitle">Disk IOPS</h3>
<svg class="ch" width="506" height="326" viewBox="632 1524 506 326">
<line x1="706" y1="1572" x2="1115.6" y2="1572" stroke="#e8ebf1" stroke-width="1" stroke-dasharray="4 4"/>
<line x1="706" y1="1612.1" x2="1115.6" y2="1612.1" stroke="#e8ebf1" stroke-width="1" stroke-dasharray="4 4"/>
<line x1="706" y1="1652.2" x2="1115.6" y2="1652.2" stroke="#e8ebf1" stroke-width="1" stroke-dasharray="4 4"/>
<line x1="706" y1="1692.4" x2="1115.6" y2="1692.4" stroke="#e8ebf1" stroke-width="1" stroke-dasharray="4 4"/>
<line x1="706" y1="1732.5" x2="1115.6" y2="1732.5" stroke="#e8ebf1" stroke-width="1" stroke-dasharray="4 4"/>
<line x1="706" y1="1772.6" x2="1115.6" y2="1772.6" stroke="#e8ebf1" stroke-width="1" stroke-dasharray="4 4"/>
<text x="696.4" y="1575.6" text-anchor="end" class="yl">2,500/s</text>
<text x="696.4" y="1615.7" text-anchor="end" class="yl">2,000/s</text>
<text x="696.4" y="1655.8" text-anchor="end" class="yl">1,500/s</text>
<text x="696.4" y="1696" text-anchor="end" class="yl">1,000/s</text>
<text x="696.4" y="1736.1" text-anchor="end" class="yl">500/s</text>
<text x="696.4" y="1776.2" text-anchor="end" class="yl">0/s</text>
<line x1="706" y1="1572" x2="706" y2="1772.6" stroke="#f1f3f6" stroke-width="1"/>
<line x1="706" y1="1772.6" x2="1118.6" y2="1772.6" stroke="#f1f3f6" stroke-width="1"/>
<line x1="745.9" y1="1572" x2="745.9" y2="1785" stroke="#7d7d7d" stroke-width="1.1"/>
<text x="748.2" y="1784.7" class="xl">17:45</text>
<line x1="879.2" y1="1572" x2="879.2" y2="1785" stroke="#a6a6a6" stroke-width="1"/>
<text x="881.5" y="1784.7" class="xl">17:50</text>
<line x1="1012.5" y1="1572" x2="1012.5" y2="1785" stroke="#a6a6a6" stroke-width="1"/>
<text x="1014.8" y="1784.7" class="xl">17:55</text>
<text x="708.4" y="1784.7" class="xl">17:40</text>
<text x="708.4" y="1794.7" class="xl dl">May 28, 2024</text>
<path d="M719.4 1771.9 L732.7 1771.9 L746.1 1755.8 L759.4 1721.1 L772.7 1753.2 L786 1745.9 L799.4 1751.6 L812.7 1752.1 L826 1755.4 L839.4 1752.1 L852.7 1711.2 L866 1676.3 L879.4 1655.4 L892.7 1667.3 L906 1693.8 L919.3 1681.9 L932.7 1671.8 L946 1607.2 L959.3 1644.2 L972.7 1682.4 L986 1750.2 L999.3 1769.8 L1012.7 1759.2 L1026 1767.2 L1039.3 1771.4 L1052.7 1770.6 L1066 1771.4 L1079.3 1770.9 L1092.6 1771.4 L1092.6 1772.6 L719.4 1772.6 Z" fill="#54B399" fill-opacity="0.3" stroke="none"/>
<path d="M719.4 1771.9 L732.7 1771.9 L746.1 1755.8 L759.4 1721.1 L772.7 1753.2 L786 1745.9 L799.4 1751.6 L812.7 1752.1 L826 1755.4 L839.4 1752.1 L852.7 1711.2 L866 1676.3 L879.4 1655.4 L892.7 1667.3 L906 1693.8 L919.3 1681.9 L932.7 1671.8 L946 1607.2 L959.3 1644.2 L972.7 1682.4 L986 1750.2 L999.3 1769.8 L1012.7 1759.2 L1026 1767.2 L1039.3 1771.4 L1052.7 1770.6 L1066 1771.4 L1079.3 1770.9 L1092.6 1771.4" fill="none" stroke="#54B399" stroke-width="2" stroke-linejoin="miter"/>
<path d="M719.4 1755.4 L732.7 1753.8 L746.1 1711.4 L759.4 1714.1 L772.7 1728.9 L786 1736.6 L799.4 1739.5 L812.7 1729.1 L826 1729.1 L839.4 1743.7 L852.7 1728.2 L866 1727.8 L879.4 1704.1 L892.7 1726.4 L906 1737.5 L919.3 1733.5 L932.7 1716.8 L946 1742.3 L959.3 1752.8 L972.7 1744.6 L986 1744.6 L999.3 1757.4 L1012.7 1756 L1026 1751.3 L1039.3 1750.2 L1052.7 1754.7 L1066 1759.2 L1079.3 1754.2 L1092.6 1723.7 L1092.6 1772.6 L719.4 1772.6 Z" fill="#6092C0" fill-opacity="0.3" stroke="none"/>
<path d="M719.4 1755.4 L732.7 1753.8 L746.1 1711.4 L759.4 1714.1 L772.7 1728.9 L786 1736.6 L799.4 1739.5 L812.7 1729.1 L826 1729.1 L839.4 1743.7 L852.7 1728.2 L866 1727.8 L879.4 1704.1 L892.7 1726.4 L906 1737.5 L919.3 1733.5 L932.7 1716.8 L946 1742.3 L959.3 1752.8 L972.7 1744.6 L986 1744.6 L999.3 1757.4 L1012.7 1756 L1026 1751.3 L1039.3 1750.2 L1052.7 1754.7 L1066 1759.2 L1079.3 1754.2 L1092.6 1723.7" fill="none" stroke="#6092C0" stroke-width="2" stroke-linejoin="miter"/>
<circle cx="662.7" cy="1823.4" r="4" fill="#54B399"/>
<text x="675.2" y="1826.6" class="lg">Read</text>
<circle cx="908.5" cy="1823.4" r="4" fill="#6092C0"/>
<text x="921" y="1826.6" class="lg">Write</text>
</svg></div>
<div class="panel" style="left:118px;top:1858px;width:1020px;height:326px">
<h3 class="ptitle">Disk Throughput</h3>
<svg class="ch" width="1020" height="326" viewBox="118 1858 1020 326">
<line x1="204" y1="1906" x2="1115.6" y2="1906" stroke="#e8ebf1" stroke-width="1" stroke-dasharray="4 4"/>
<line x1="204" y1="1939.4" x2="1115.6" y2="1939.4" stroke="#e8ebf1" stroke-width="1" stroke-dasharray="4 4"/>
<line x1="204" y1="1972.9" x2="1115.6" y2="1972.9" stroke="#e8ebf1" stroke-width="1" stroke-dasharray="4 4"/>
<line x1="204" y1="2006.3" x2="1115.6" y2="2006.3" stroke="#e8ebf1" stroke-width="1" stroke-dasharray="4 4"/>
<line x1="204" y1="2039.7" x2="1115.6" y2="2039.7" stroke="#e8ebf1" stroke-width="1" stroke-dasharray="4 4"/>
<line x1="204" y1="2073.2" x2="1115.6" y2="2073.2" stroke="#e8ebf1" stroke-width="1" stroke-dasharray="4 4"/>
<line x1="204" y1="2106.6" x2="1115.6" y2="2106.6" stroke="#e8ebf1" stroke-width="1" stroke-dasharray="4 4"/>
<text x="194.4" y="1909.6" text-anchor="end" class="yl">114.4MB/s</text>
<text x="194.4" y="1943" text-anchor="end" class="yl">95.4MB/s</text>
<text x="194.4" y="1976.5" text-anchor="end" class="yl">76.3MB/s</text>
<text x="194.4" y="2009.9" text-anchor="end" class="yl">57.2MB/s</text>
<text x="194.4" y="2043.3" text-anchor="end" class="yl">38.1MB/s</text>
<text x="194.4" y="2076.8" text-anchor="end" class="yl">19.1MB/s</text>
<text x="194.4" y="2110.2" text-anchor="end" class="yl">0.0B/s</text>
<line x1="204" y1="1906" x2="204" y2="2106.6" stroke="#f1f3f6" stroke-width="1"/>
<line x1="204" y1="2106.6" x2="1119" y2="2106.6" stroke="#f1f3f6" stroke-width="1"/>
<line x1="233.3" y1="2106.6" x2="233.3" y2="2119" stroke="#dcdfe4" stroke-width="1"/>
<text x="235.6" y="2118.7" class="xl">17:44</text>
<line x1="292.3" y1="1906" x2="292.3" y2="2119" stroke="#7d7d7d" stroke-width="1.1"/>
<text x="294.6" y="2118.7" class="xl">17:45</text>
<line x1="351.3" y1="2106.6" x2="351.3" y2="2119" stroke="#dcdfe4" stroke-width="1"/>
<text x="353.6" y="2118.7" class="xl">17:46</text>
<line x1="410.3" y1="2106.6" x2="410.3" y2="2119" stroke="#dcdfe4" stroke-width="1"/>
<text x="412.6" y="2118.7" class="xl">17:47</text>
<line x1="469.3" y1="2106.6" x2="469.3" y2="2119" stroke="#dcdfe4" stroke-width="1"/>
<text x="471.6" y="2118.7" class="xl">17:48</text>
<line x1="528.2" y1="2106.6" x2="528.2" y2="2119" stroke="#dcdfe4" stroke-width="1"/>
<text x="530.5" y="2118.7" class="xl">17:49</text>
<line x1="587.2" y1="1906" x2="587.2" y2="2119" stroke="#a6a6a6" stroke-width="1"/>
<text x="589.5" y="2118.7" class="xl">17:50</text>
<line x1="646.2" y1="2106.6" x2="646.2" y2="2119" stroke="#dcdfe4" stroke-width="1"/>
<text x="648.5" y="2118.7" class="xl">17:51</text>
<line x1="705.2" y1="2106.6" x2="705.2" y2="2119" stroke="#dcdfe4" stroke-width="1"/>
<text x="707.5" y="2118.7" class="xl">17:52</text>
<line x1="764.2" y1="2106.6" x2="764.2" y2="2119" stroke="#dcdfe4" stroke-width="1"/>
<text x="766.5" y="2118.7" class="xl">17:53</text>
<line x1="823.2" y1="2106.6" x2="823.2" y2="2119" stroke="#dcdfe4" stroke-width="1"/>
<text x="825.5" y="2118.7" class="xl">17:54</text>
<line x1="882.2" y1="1906" x2="882.2" y2="2119" stroke="#a6a6a6" stroke-width="1"/>
<text x="884.5" y="2118.7" class="xl">17:55</text>
<line x1="941.2" y1="2106.6" x2="941.2" y2="2119" stroke="#dcdfe4" stroke-width="1"/>
<text x="943.5" y="2118.7" class="xl">17:56</text>
<line x1="1000.2" y1="2106.6" x2="1000.2" y2="2119" stroke="#dcdfe4" stroke-width="1"/>
<text x="1002.5" y="2118.7" class="xl">17:57</text>
<line x1="1059.2" y1="2106.6" x2="1059.2" y2="2119" stroke="#dcdfe4" stroke-width="1"/>
<text x="1061.5" y="2118.7" class="xl">17:58</text>
<line x1="1119" y1="2106.6" x2="1119" y2="2119" stroke="#e3e6eb" stroke-width="1"/>
<text x="206.8" y="2128.7" class="xl dl">May 28, 2024</text>
<path d="M233.3 2105.8 L262.8 2105.8 L292.3 2099.7 L321.8 2031.4 L351.3 2085 L380.8 2077 L410.3 2079.8 L439.8 2079.8 L469.3 2091 L498.8 2091 L528.3 2082 L557.8 2063.6 L587.3 2054.7 L616.8 2080.3 L646.3 2088.9 L675.8 2079.6 L705.3 2079 L734.8 2080.6 L764.3 2085.2 L793.8 2082.3 L823.3 2097.8 L852.8 2105.5 L882.3 2101.2 L911.8 2103.7 L941.3 2105.7 L970.8 2105.7 L1000.3 2105.7 L1029.8 2105 L1059.3 2105.7 L1059.3 2106.6 L233.3 2106.6 Z" fill="#54B399" fill-opacity="0.3" stroke="none"/>
<path d="M233.3 2105.8 L262.8 2105.8 L292.3 2099.7 L321.8 2031.4 L351.3 2085 L380.8 2077 L410.3 2079.8 L439.8 2079.8 L469.3 2091 L498.8 2091 L528.3 2082 L557.8 2063.6 L587.3 2054.7 L616.8 2080.3 L646.3 2088.9 L675.8 2079.6 L705.3 2079 L734.8 2080.6 L764.3 2085.2 L793.8 2082.3 L823.3 2097.8 L852.8 2105.5 L882.3 2101.2 L911.8 2103.7 L941.3 2105.7 L970.8 2105.7 L1000.3 2105.7 L1029.8 2105 L1059.3 2105.7" fill="none" stroke="#54B399" stroke-width="2" stroke-linejoin="miter"/>
<path d="M233.3 2100.3 L262.8 2098.6 L292.3 1928.2 L321.8 1966.1 L351.3 2047.5 L380.8 2027.3 L410.3 2037.9 L439.8 2049.6 L469.3 2060.2 L498.8 2059.7 L528.3 2065.3 L557.8 2047.9 L587.3 2051.7 L616.8 2053.8 L646.3 2065.7 L675.8 2062.4 L705.3 2064.7 L734.8 2084.6 L764.3 2098.1 L793.8 2098.1 L823.3 2098.5 L852.8 2100.3 L882.3 2098.1 L911.8 2098.7 L941.3 2098.1 L970.8 2099.4 L1000.3 2100.4 L1029.8 2099.4 L1059.3 2094.8 L1059.3 2106.6 L233.3 2106.6 Z" fill="#6092C0" fill-opacity="0.3" stroke="none"/>
<path d="M233.3 2100.3 L262.8 2098.6 L292.3 1928.2 L321.8 1966.1 L351.3 2047.5 L380.8 2027.3 L410.3 2037.9 L439.8 2049.6 L469.3 2060.2 L498.8 2059.7 L528.3 2065.3 L557.8 2047.9 L587.3 2051.7 L616.8 2053.8 L646.3 2065.7 L675.8 2062.4 L705.3 2064.7 L734.8 2084.6 L764.3 2098.1 L793.8 2098.1 L823.3 2098.5 L852.8 2100.3 L882.3 2098.1 L911.8 2098.7 L941.3 2098.1 L970.8 2099.4 L1000.3 2100.4 L1029.8 2099.4 L1059.3 2094.8" fill="none" stroke="#6092C0" stroke-width="2" stroke-linejoin="miter"/>
<circle cx="148.7" cy="2157.4" r="4" fill="#54B399"/>
<text x="161.2" y="2160.6" class="lg">Read</text>
<circle cx="401.1" cy="2157.4" r="4" fill="#6092C0"/>
<text x="413.6" y="2160.6" class="lg">Write</text>
</svg></div>
<div class="panel" style="left:118px;top:2236px;width:1020px;height:326px">
<h3 class="ptitle">Log Rate</h3>
<svg class="ch" width="1020" height="326" viewBox="118 2236 1020 326">
<line x1="189.6" y1="2284" x2="1115.6" y2="2284" stroke="#e8ebf1" stroke-width="1" stroke-dasharray="4 4"/>
<line x1="189.6" y1="2323.1" x2="1115.6" y2="2323.1" stroke="#e8ebf1" stroke-width="1" stroke-dasharray="4 4"/>
<line x1="189.6" y1="2362.3" x2="1115.6" y2="2362.3" stroke="#e8ebf1" stroke-width="1" stroke-dasharray="4 4"/>
<line x1="189.6" y1="2401.4" x2="1115.6" y2="2401.4" stroke="#e8ebf1" stroke-width="1" stroke-dasharray="4 4"/>
<line x1="189.6" y1="2440.5" x2="1115.6" y2="2440.5" stroke="#e8ebf1" stroke-width="1" stroke-dasharray="4 4"/>
<line x1="189.6" y1="2479.7" x2="1115.6" y2="2479.7" stroke="#e8ebf1" stroke-width="1" stroke-dasharray="4 4"/>
<line x1="189.6" y1="2518.8" x2="1115.6" y2="2518.8" stroke="#e8ebf1" stroke-width="1" stroke-dasharray="4 4"/>
<text x="180" y="2287.6" text-anchor="end" class="yl">1,200/s</text>
<text x="180" y="2326.7" text-anchor="end" class="yl">1,000/s</text>
<text x="180" y="2365.9" text-anchor="end" class="yl">800/s</text>
<text x="180" y="2405" text-anchor="end" class="yl">600/s</text>
<text x="180" y="2444.1" text-anchor="end" class="yl">400/s</text>
<text x="180" y="2483.3" text-anchor="end" class="yl">200/s</text>
<text x="180" y="2522.4" text-anchor="end" class="yl">0/s</text>
<line x1="189.6" y1="2284" x2="189.6" y2="2518.8" stroke="#f1f3f6" stroke-width="1"/>
<line x1="189.6" y1="2518.8" x2="1119" y2="2518.8" stroke="#f1f3f6" stroke-width="1"/>
<line x1="219.1" y1="2518.8" x2="219.1" y2="2531.2" stroke="#dcdfe4" stroke-width="1"/>
<text x="221.4" y="2530.9" class="xl">17:44</text>
<line x1="279.1" y1="2284" x2="279.1" y2="2531.2" stroke="#7d7d7d" stroke-width="1.1"/>
<text x="281.4" y="2530.9" class="xl">17:45</text>
<line x1="339.1" y1="2518.8" x2="339.1" y2="2531.2" stroke="#dcdfe4" stroke-width="1"/>
<text x="341.4" y="2530.9" class="xl">17:46</text>
<line x1="399.1" y1="2518.8" x2="399.1" y2="2531.2" stroke="#dcdfe4" stroke-width="1"/>
<text x="401.4" y="2530.9" class="xl">17:47</text>
<line x1="459.1" y1="2518.8" x2="459.1" y2="2531.2" stroke="#dcdfe4" stroke-width="1"/>
<text x="461.4" y="2530.9" class="xl">17:48</text>
<line x1="519.1" y1="2518.8" x2="519.1" y2="2531.2" stroke="#dcdfe4" stroke-width="1"/>
<text x="521.4" y="2530.9" class="xl">17:49</text>
<line x1="579.1" y1="2284" x2="579.1" y2="2531.2" stroke="#a6a6a6" stroke-width="1"/>
<text x="581.4" y="2530.9" class="xl">17:50</text>
<line x1="639.1" y1="2518.8" x2="639.1" y2="2531.2" stroke="#dcdfe4" stroke-width="1"/>
<text x="641.4" y="2530.9" class="xl">17:51</text>
<line x1="699.1" y1="2518.8" x2="699.1" y2="2531.2" stroke="#dcdfe4" stroke-width="1"/>
<text x="701.4" y="2530.9" class="xl">17:52</text>
<line x1="759.1" y1="2518.8" x2="759.1" y2="2531.2" stroke="#dcdfe4" stroke-width="1"/>
<text x="761.4" y="2530.9" class="xl">17:53</text>
<line x1="819.1" y1="2518.8" x2="819.1" y2="2531.2" stroke="#dcdfe4" stroke-width="1"/>
<text x="821.4" y="2530.9" class="xl">17:54</text>
<line x1="879.1" y1="2284" x2="879.1" y2="2531.2" stroke="#a6a6a6" stroke-width="1"/>
<text x="881.4" y="2530.9" class="xl">17:55</text>
<line x1="939.1" y1="2518.8" x2="939.1" y2="2531.2" stroke="#dcdfe4" stroke-width="1"/>
<text x="941.4" y="2530.9" class="xl">17:56</text>
<line x1="999.1" y1="2518.8" x2="999.1" y2="2531.2" stroke="#dcdfe4" stroke-width="1"/>
<text x="1001.4" y="2530.9" class="xl">17:57</text>
<line x1="1059.1" y1="2518.8" x2="1059.1" y2="2531.2" stroke="#dcdfe4" stroke-width="1"/>
<text x="1061.4" y="2530.9" class="xl">17:58</text>
<line x1="1119" y1="2518.8" x2="1119" y2="2531.2" stroke="#e3e6eb" stroke-width="1"/>
<text x="192.4" y="2540.9" class="xl dl">May 28, 2024</text>
<path d="M220 2316.4 L250 2318.5 L280 2361.3 L310 2357.7 L340 2430.6 L370 2440.4 L400 2400.2 L430 2333.2 L460 2355.6 L490 2353.3 L520 2417.6 L550 2324.8 L580 2380.1 L610 2465.9 L640 2335.3 L670 2347.5 L700 2331.5 L730 2328.9 L760 2462 L790 2513.9 L820 2493.4 L850 2479.3 L880 2424.9 L910 2465.3 L940 2424.9 L970 2414 L1000 2416.6 L1030 2463.3 L1060 2445.4 L1090 2451.8" fill="none" stroke="#54B399" stroke-width="2" stroke-linejoin="miter"/>
</svg></div>
<div class="panel" style="left:118px;top:2614px;width:506px;height:326px">
<h3 class="ptitle">Node CPU Capacity</h3>
<svg class="ch" width="506" height="326" viewBox="118 2614 506 326">
<line x1="177" y1="2662" x2="601" y2="2662" stroke="#e8ebf1" stroke-width="1" stroke-dasharray="4 4"/>
<line x1="177" y1="2712.2" x2="601" y2="2712.2" stroke="#e8ebf1" stroke-width="1" stroke-dasharray="4 4"/>
<line x1="177" y1="2762.3" x2="601" y2="2762.3" stroke="#e8ebf1" stroke-width="1" stroke-dasharray="4 4"/>
<line x1="177" y1="2812.4" x2="601" y2="2812.4" stroke="#e8ebf1" stroke-width="1" stroke-dasharray="4 4"/>
<line x1="177" y1="2862.6" x2="601" y2="2862.6" stroke="#e8ebf1" stroke-width="1" stroke-dasharray="4 4"/>
<text x="167.4" y="2665.6" text-anchor="end" class="yl">4.0b</text>
<text x="167.4" y="2715.8" text-anchor="end" class="yl">3.0b</text>
<text x="167.4" y="2765.9" text-anchor="end" class="yl">2.0b</text>
<text x="167.4" y="2816" text-anchor="end" class="yl">1.0b</text>
<text x="167.4" y="2866.2" text-anchor="end" class="yl">0.0</text>
<line x1="177" y1="2662" x2="177" y2="2862.6" stroke="#f1f3f6" stroke-width="1"/>
<line x1="177" y1="2862.6" x2="605" y2="2862.6" stroke="#f1f3f6" stroke-width="1"/>
<line x1="218.4" y1="2662" x2="218.4" y2="2875" stroke="#7d7d7d" stroke-width="1.1"/>
<text x="220.7" y="2874.7" class="xl">17:45</text>
<line x1="356.7" y1="2662" x2="356.7" y2="2875" stroke="#a6a6a6" stroke-width="1"/>
<text x="359" y="2874.7" class="xl">17:50</text>
<line x1="494.3" y1="2662" x2="494.3" y2="2875" stroke="#a6a6a6" stroke-width="1"/>
<text x="496.6" y="2874.7" class="xl">17:55</text>
<text x="179.4" y="2874.7" class="xl">17:40</text>
<text x="179.4" y="2884.7" class="xl dl">May 28, 2024</text>
<path d="M177.1 2745.4 L190.9 2765.2 L204.7 2754.6 L218.4 2677.8 L232.2 2673.3 L246 2679.9 L259.8 2696.6 L273.6 2671.2 L287.3 2666.4 L301.1 2677 L314.9 2672.5 L328.7 2665.9 L342.5 2675.2 L356.2 2678.3 L370 2694.5 L383.8 2669.2 L397.6 2671.8 L411.4 2667.2 L425.1 2683 L438.9 2716 L452.7 2726.9 L466.5 2750.4 L480.3 2752.7 L494 2718.3 L507.8 2725.5 L521.6 2751.9 L535.4 2736.7 L549.2 2744.7 L562.9 2745.6 L576.7 2715.4 L576.7 2862.6 L177.1 2862.6 Z" fill="#6092C0" fill-opacity="0.3" stroke="none"/>
<path d="M177.1 2745.4 L190.9 2765.2 L204.7 2754.6 L218.4 2677.8 L232.2 2673.3 L246 2679.9 L259.8 2696.6 L273.6 2671.2 L287.3 2666.4 L301.1 2677 L314.9 2672.5 L328.7 2665.9 L342.5 2675.2 L356.2 2678.3 L370 2694.5 L383.8 2669.2 L397.6 2671.8 L411.4 2667.2 L425.1 2683 L438.9 2716 L452.7 2726.9 L466.5 2750.4 L480.3 2752.7 L494 2718.3 L507.8 2725.5 L521.6 2751.9 L535.4 2736.7 L549.2 2744.7 L562.9 2745.6 L576.7 2715.4" fill="none" stroke="#6092C0" stroke-width="2" stroke-linejoin="miter"/>
<circle cx="148.7" cy="2914" r="4" fill="#54B399"/>
<text x="161.2" y="2917.2" class="lg">Capacity</text>
<circle cx="395" cy="2914" r="4" fill="#6092C0"/>
<text x="407.5" y="2917.2" class="lg">Used</text>
</svg></div>
<div class="panel" style="left:632px;top:2614px;width:506px;height:326px">
<h3 class="ptitle">Node Memory Capacity</h3>
<svg class="ch" width="506" height="326" viewBox="632 2614 506 326">
<line x1="698" y1="2662" x2="1115.6" y2="2662" stroke="#e8ebf1" stroke-width="1" stroke-dasharray="4 4"/>
<line x1="698" y1="2712.2" x2="1115.6" y2="2712.2" stroke="#e8ebf1" stroke-width="1" stroke-dasharray="4 4"/>
<line x1="698" y1="2762.3" x2="1115.6" y2="2762.3" stroke="#e8ebf1" stroke-width="1" stroke-dasharray="4 4"/>
<line x1="698" y1="2812.4" x2="1115.6" y2="2812.4" stroke="#e8ebf1" stroke-width="1" stroke-dasharray="4 4"/>
<line x1="698" y1="2862.6" x2="1115.6" y2="2862.6" stroke="#e8ebf1" stroke-width="1" stroke-dasharray="4 4"/>
<text x="688.4" y="2665.6" text-anchor="end" class="yl">4.0GB</text>
<text x="688.4" y="2715.8" text-anchor="end" class="yl">3.0GB</text>
<text x="688.4" y="2765.9" text-anchor="end" class="yl">2.0GB</text>
<text x="688.4" y="2816" text-anchor="end" class="yl">1.0GB</text>
<text x="688.4" y="2866.2" text-anchor="end" class="yl">0.0B</text>
<line x1="698" y1="2662" x2="698" y2="2862.6" stroke="#f1f3f6" stroke-width="1"/>
<line x1="698" y1="2862.6" x2="1118.6" y2="2862.6" stroke="#f1f3f6" stroke-width="1"/>
<line x1="738.7" y1="2662" x2="738.7" y2="2875" stroke="#7d7d7d" stroke-width="1.1"/>
<text x="741" y="2874.7" class="xl">17:45</text>
<line x1="874.7" y1="2662" x2="874.7" y2="2875" stroke="#a6a6a6" stroke-width="1"/>
<text x="877" y="2874.7" class="xl">17:50</text>
<line x1="1010.6" y1="2662" x2="1010.6" y2="2875" stroke="#a6a6a6" stroke-width="1"/>
<text x="1012.9" y="2874.7" class="xl">17:55</text>
<text x="700.4" y="2874.7" class="xl">17:40</text>
<text x="700.4" y="2884.7" class="xl dl">May 28, 2024</text>
<path d="M698.1 2682.9 L711.7 2682.5 L725.3 2680.1 L738.9 2677.4 L752.5 2676 L766.1 2676 L779.7 2676 L793.3 2678.3 L806.9 2676 L820.5 2676 L834.1 2676 L847.7 2677.4 L861.3 2676 L874.9 2677.4 L888.5 2676 L902.1 2676.7 L915.7 2676.2 L929.3 2676.9 L942.9 2676.9 L956.5 2676.2 L970.1 2676.7 L983.7 2699.1 L997.3 2696.4 L1010.9 2679.7 L1024.5 2682.5 L1038.1 2692.9 L1051.7 2686.4 L1065.3 2686.9 L1078.9 2683.1 L1092.5 2681.3 L1092.5 2862.6 L698.1 2862.6 Z" fill="#6092C0" fill-opacity="0.3" stroke="none"/>
<path d="M698.1 2682.9 L711.7 2682.5 L725.3 2680.1 L738.9 2677.4 L752.5 2676 L766.1 2676 L779.7 2676 L793.3 2678.3 L806.9 2676 L820.5 2676 L834.1 2676 L847.7 2677.4 L861.3 2676 L874.9 2677.4 L888.5 2676 L902.1 2676.7 L915.7 2676.2 L929.3 2676.9 L942.9 2676.9 L956.5 2676.2 L970.1 2676.7 L983.7 2699.1 L997.3 2696.4 L1010.9 2679.7 L1024.5 2682.5 L1038.1 2692.9 L1051.7 2686.4 L1065.3 2686.9 L1078.9 2683.1 L1092.5 2681.3" fill="none" stroke="#6092C0" stroke-width="2" stroke-linejoin="miter"/>
<circle cx="662.7" cy="2914" r="4" fill="#54B399"/>
<text x="675.2" y="2917.2" class="lg">Capacity</text>
<circle cx="908.5" cy="2914" r="4" fill="#6092C0"/>
<text x="921" y="2917.2" class="lg">Used</text>
</svg></div>
<div class="panel" style="left:118px;top:2948px;width:506px;height:326px">
<h3 class="ptitle">Node Disk Capacity</h3>
<svg class="ch" width="506" height="326" viewBox="118 2948 506 326">
<line x1="190.8" y1="2996" x2="601" y2="2996" stroke="#e8ebf1" stroke-width="1" stroke-dasharray="4 4"/>
<line x1="190.8" y1="3029.4" x2="601" y2="3029.4" stroke="#e8ebf1" stroke-width="1" stroke-dasharray="4 4"/>
<line x1="190.8" y1="3062.9" x2="601" y2="3062.9" stroke="#e8ebf1" stroke-width="1" stroke-dasharray="4 4"/>
<line x1="190.8" y1="3096.3" x2="601" y2="3096.3" stroke="#e8ebf1" stroke-width="1" stroke-dasharray="4 4"/>
<line x1="190.8" y1="3129.7" x2="601" y2="3129.7" stroke="#e8ebf1" stroke-width="1" stroke-dasharray="4 4"/>
<line x1="190.8" y1="3163.2" x2="601" y2="3163.2" stroke="#e8ebf1" stroke-width="1" stroke-dasharray="4 4"/>
<line x1="190.8" y1="3196.6" x2="601" y2="3196.6" stroke="#e8ebf1" stroke-width="1" stroke-dasharray="4 4"/>
<text x="181.2" y="2999.6" text-anchor="end" class="yl">96.0GB</text>
<text x="181.2" y="3033" text-anchor="end" class="yl">80.0GB</text>
<text x="181.2" y="3066.5" text-anchor="end" class="yl">64.0GB</text>
<text x="181.2" y="3099.9" text-anchor="end" class="yl">48.0GB</text>
<text x="181.2" y="3133.3" text-anchor="end" class="yl">32.0GB</text>
<text x="181.2" y="3166.8" text-anchor="end" class="yl">16.0GB</text>
<text x="181.2" y="3200.2" text-anchor="end" class="yl">0.0B</text>
<line x1="190.8" y1="2996" x2="190.8" y2="3196.6" stroke="#f1f3f6" stroke-width="1"/>
<line x1="190.8" y1="3196.6" x2="605" y2="3196.6" stroke="#f1f3f6" stroke-width="1"/>
<line x1="231" y1="2996" x2="231" y2="3209" stroke="#7d7d7d" stroke-width="1.1"/>
<text x="233.3" y="3208.7" class="xl">17:45</text>
<line x1="364.4" y1="2996" x2="364.4" y2="3209" stroke="#a6a6a6" stroke-width="1"/>
<text x="366.7" y="3208.7" class="xl">17:50</text>
<line x1="498.4" y1="2996" x2="498.4" y2="3209" stroke="#a6a6a6" stroke-width="1"/>
<text x="500.7" y="3208.7" class="xl">17:55</text>
<text x="193.2" y="3208.7" class="xl">17:40</text>
<text x="193.2" y="3218.7" class="xl dl">May 28, 2024</text>
<path d="M191.1 2999.9 L204.5 2999.9 L217.8 2999.9 L231.2 2999.9 L244.6 2999.9 L257.9 2999.9 L271.3 2999.9 L284.7 2999.9 L298.1 2999.9 L311.4 2999.9 L324.8 2999.9 L338.2 2999.9 L351.5 2999.9 L364.9 2999.9 L378.3 2999.9 L391.6 2999.9 L405 2999.9 L418.4 2999.9 L431.8 2999.9 L445.1 2999.9 L458.5 2999.9 L471.9 2999.9 L485.2 2999.9 L498.6 2999.9 L512 2999.9 L525.4 2999.9 L538.7 2999.9 L552.1 2999.9 L565.5 2999.9 L578.8 2999.9 L578.8 3196.6 L191.1 3196.6 Z" fill="#54B399" fill-opacity="0.3" stroke="none"/>
<path d="M191.1 2999.9 L204.5 2999.9 L217.8 2999.9 L231.2 2999.9 L244.6 2999.9 L257.9 2999.9 L271.3 2999.9 L284.7 2999.9 L298.1 2999.9 L311.4 2999.9 L324.8 2999.9 L338.2 2999.9 L351.5 2999.9 L364.9 2999.9 L378.3 2999.9 L391.6 2999.9 L405 2999.9 L418.4 2999.9 L431.8 2999.9 L445.1 2999.9 L458.5 2999.9 L471.9 2999.9 L485.2 2999.9 L498.6 2999.9 L512 2999.9 L525.4 2999.9 L538.7 2999.9 L552.1 2999.9 L565.5 2999.9 L578.8 2999.9" fill="none" stroke="#54B399" stroke-width="2" stroke-linejoin="miter"/>
<path d="M191.1 3113.4 L217.4 3113.4 L230.8 3111.9 L244.8 3106.1 L263.3 3101.6 L285.6 3097.7 L310.7 3094.4 L335.9 3092.1 L349.8 3091.6 L363.8 3089.9 L391.7 3087.7 L418 3085.4 L443.7 3085.4 L458.8 3091 L472.7 3093.8 L497.9 3093.8 L578.1 3093.3 L578.1 3196.6 L191.1 3196.6 Z" fill="#6092C0" fill-opacity="0.3" stroke="none"/>
<path d="M191.1 3113.4 L217.4 3113.4 L230.8 3111.9 L244.8 3106.1 L263.3 3101.6 L285.6 3097.7 L310.7 3094.4 L335.9 3092.1 L349.8 3091.6 L363.8 3089.9 L391.7 3087.7 L418 3085.4 L443.7 3085.4 L458.8 3091 L472.7 3093.8 L497.9 3093.8 L578.1 3093.3" fill="none" stroke="#6092C0" stroke-width="2" stroke-linejoin="miter"/>
<circle cx="148.7" cy="3248" r="4" fill="#54B399"/>
<text x="161.2" y="3251.2" class="lg">Capacity</text>
<circle cx="395" cy="3248" r="4" fill="#6092C0"/>
<text x="407.5" y="3251.2" class="lg">Used</text>
</svg></div>
<div class="panel" style="left:632px;top:2948px;width:506px;height:326px">
<h3 class="ptitle">Node Pod Capacity</h3>
<svg class="ch" width="506" height="326" viewBox="632 2948 506 326">
<line x1="681" y1="2996" x2="1115.6" y2="2996" stroke="#e8ebf1" stroke-width="1" stroke-dasharray="4 4"/>
<line x1="681" y1="3024.7" x2="1115.6" y2="3024.7" stroke="#e8ebf1" stroke-width="1" stroke-dasharray="4 4"/>
<line x1="681" y1="3053.3" x2="1115.6" y2="3053.3" stroke="#e8ebf1" stroke-width="1" stroke-dasharray="4 4"/>
<line x1="681" y1="3082" x2="1115.6" y2="3082" stroke="#e8ebf1" stroke-width="1" stroke-dasharray="4 4"/>
<line x1="681" y1="3110.6" x2="1115.6" y2="3110.6" stroke="#e8ebf1" stroke-width="1" stroke-dasharray="4 4"/>
<line x1="681" y1="3139.3" x2="1115.6" y2="3139.3" stroke="#e8ebf1" stroke-width="1" stroke-dasharray="4 4"/>
<line x1="681" y1="3167.9" x2="1115.6" y2="3167.9" stroke="#e8ebf1" stroke-width="1" stroke-dasharray="4 4"/>
<line x1="681" y1="3196.6" x2="1115.6" y2="3196.6" stroke="#e8ebf1" stroke-width="1" stroke-dasharray="4 4"/>
<text x="671.4" y="2999.6" text-anchor="end" class="yl">14</text>
<text x="671.4" y="3028.3" text-anchor="end" class="yl">12</text>
<text x="671.4" y="3056.9" text-anchor="end" class="yl">10</text>
<text x="671.4" y="3085.6" text-anchor="end" class="yl">8</text>
<text x="671.4" y="3114.2" text-anchor="end" class="yl">6</text>
<text x="671.4" y="3142.9" text-anchor="end" class="yl">4</text>
<text x="671.4" y="3171.5" text-anchor="end" class="yl">2</text>
<text x="671.4" y="3200.2" text-anchor="end" class="yl">0</text>
<line x1="681" y1="2996" x2="681" y2="3196.6" stroke="#f1f3f6" stroke-width="1"/>
<line x1="681" y1="3196.6" x2="1118.6" y2="3196.6" stroke="#f1f3f6" stroke-width="1"/>
<line x1="723.5" y1="2996" x2="723.5" y2="3209" stroke="#7d7d7d" stroke-width="1.1"/>
<text x="725.8" y="3208.7" class="xl">17:45</text>
<line x1="864.4" y1="2996" x2="864.4" y2="3209" stroke="#a6a6a6" stroke-width="1"/>
<text x="866.7" y="3208.7" class="xl">17:50</text>
<line x1="1005.7" y1="2996" x2="1005.7" y2="3209" stroke="#a6a6a6" stroke-width="1"/>
<text x="1008" y="3208.7" class="xl">17:55</text>
<text x="683.4" y="3208.7" class="xl">17:40</text>
<text x="683.4" y="3218.7" class="xl dl">May 28, 2024</text>
<path d="M681 3010 L695.1 3010 L709.2 3010 L723.3 3010 L737.4 3010 L751.5 3010 L765.6 3010 L779.7 3010 L793.8 3010 L807.9 3010 L822 3010 L836.1 3010 L850.2 3010 L864.3 3010 L878.4 3010 L892.5 3010 L906.6 3010 L920.7 3010 L934.8 3010 L948.9 3010 L963 2996 L977.1 3010 L991.2 3010 L1005.3 2996 L1019.4 2996 L1033.5 3010 L1047.6 3010 L1061.7 3010 L1075.8 3010 L1089.9 3010 L1104 3196.6 L1104 3196.6 L681 3196.6 Z" fill="#6092C0" fill-opacity="0.3" stroke="none"/>
<path d="M681 3010 L695.1 3010 L709.2 3010 L723.3 3010 L737.4 3010 L751.5 3010 L765.6 3010 L779.7 3010 L793.8 3010 L807.9 3010 L822 3010 L836.1 3010 L850.2 3010 L864.3 3010 L878.4 3010 L892.5 3010 L906.6 3010 L920.7 3010 L934.8 3010 L948.9 3010 L963 2996 L977.1 3010 L991.2 3010 L1005.3 2996 L1019.4 2996 L1033.5 3010 L1047.6 3010 L1061.7 3010 L1075.8 3010 L1089.9 3010 L1104 3196.6" fill="none" stroke="#6092C0" stroke-width="2" stroke-linejoin="miter"/>
<circle cx="662.7" cy="3248" r="4" fill="#54B399"/>
<text x="675.2" y="3251.2" class="lg">Capacity</text>
<circle cx="908.5" cy="3248" r="4" fill="#6092C0"/>
<text x="921" y="3251.2" class="lg">Used</text>
</svg></div>
</body></html>
